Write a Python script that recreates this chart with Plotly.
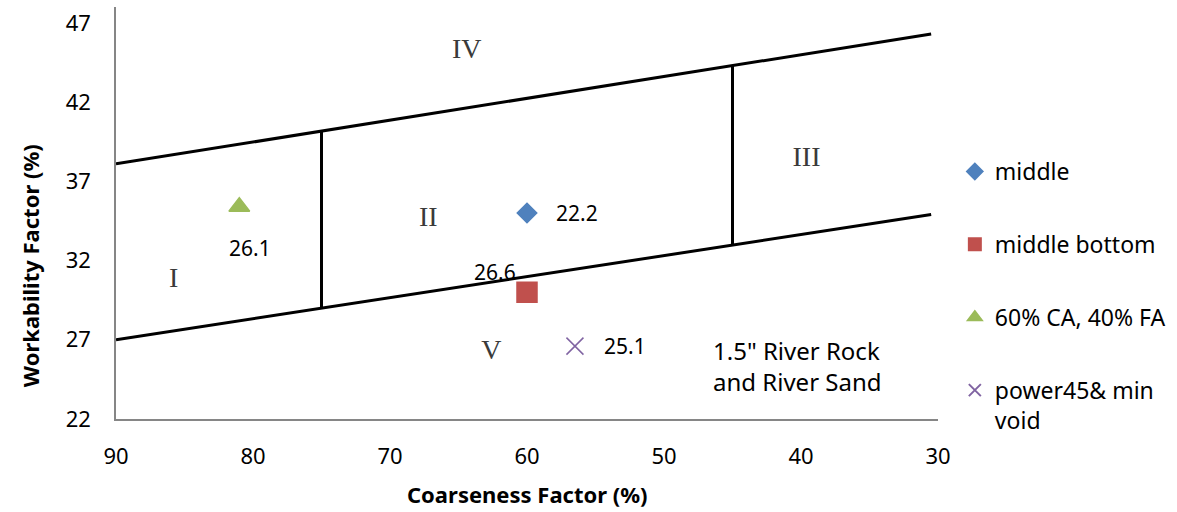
import plotly.graph_objects as go

# boundary lines of the workability chart
upper_x = [90, 30.5]
upper_y = [38.1, 46.3]
lower_x = [90, 30.5]
lower_y = [27.0, 34.9]
div1_x = [75, 75]
div1_y = [29.0, 40.2]
div2_x = [45, 45]
div2_y = [33.0, 44.3]

# zone labels
zone_names = ["I", "II", "III", "IV", "V"]
zone_x = [85.8, 67.2, 39.6, 64.4, 62.6]
zone_y = [30.8, 34.6, 38.4, 45.2, 26.2]

# mixes
mix_names = ["middle", "middle bottom", "60% CA, 40% FA", "power45& min<br>void"]
mix_x = [60, 60, 81, 56.5]
mix_y = [35.0, 30.0, 35.4, 26.6]
mix_labels = ["22.2", "26.6", "26.1", "25.1"]

font = "Noto Sans"
fig = go.Figure()

for xs, ys in [(upper_x, upper_y), (lower_x, lower_y), (div1_x, div1_y), (div2_x, div2_y)]:
    fig.add_trace(go.Scatter(x=xs, y=ys, mode="lines",
                             line=dict(color="black", width=3),
                             showlegend=False, hoverinfo="skip"))

symbols = ["diamond", "square", "triangle-up", "x-thin-open"]
colors = ["#4F81BD", "#C0504D", "#9BBB59", "#8064A2"]
sizes = [15, 20, 18, 17]
label_dx = [50, -32, 11, 50]
label_dy = [0, 20, -41, 0]
for i in range(len(mix_names)):
    fig.add_trace(go.Scatter(x=[mix_x[i]], y=[mix_y[i]], mode="markers",
                             name=mix_names[i], legendgroup=str(i),
                             marker=dict(symbol=symbols[i], color=colors[i], size=sizes[i],
                                         line=dict(color=colors[i], width=1.5))))
    fig.add_annotation(x=mix_x[i], y=mix_y[i], text=mix_labels[i], showarrow=False,
                       xshift=label_dx[i], yshift=label_dy[i],
                       font=dict(family=font, size=21, color="black"))

fig.add_trace(go.Scatter(x=zone_x, y=zone_y, mode="text", text=zone_names,
                         textfont=dict(family="Liberation Serif", size=28, color="#3a3a3a"),
                         showlegend=False, hoverinfo="skip"))

fig.add_annotation(x=0.724, y=0.129, xref="paper", yref="paper", xanchor="left", yanchor="middle",
                   text='1.5" River Rock<br>and River Sand', showarrow=False, align="left",
                   font=dict(family=font, size=24, color="black"))

# axis titles
fig.add_annotation(x=0.5, y=-0.182, xref="paper", yref="paper", yanchor="middle",
                   text="<b>Coarseness Factor (%)</b>", showarrow=False,
                   font=dict(family=font, size=22))
fig.add_annotation(x=-0.1046, y=0.371, xref="paper", yref="paper", xanchor="center",
                   text="<b>Workability Factor (%)</b>", showarrow=False, textangle=-90,
                   font=dict(family=font, size=22))

fig.update_layout(
    width=1177, height=512,
    margin=dict(l=116, r=239, t=7, b=93, autoexpand=False),
    plot_bgcolor="white", paper_bgcolor="white",
    font=dict(family=font, size=21, color="black"),
    legend=dict(x=1.0205, y=0.653, yanchor="top", xanchor="left",
                tracegroupgap=40, valign="top", itemsizing="constant",
                font=dict(family=font, size=23)),
    xaxis=dict(range=[90, 30], dtick=10, showgrid=False, zeroline=False,
               showline=True, linecolor="#868686", linewidth=1.5,
               ticks="outside", ticklen=17, tickcolor="rgba(0,0,0,0)",
               tickfont=dict(size=22), automargin=False),
    yaxis=dict(range=[22, 48], tick0=22, dtick=5, showgrid=False, zeroline=False,
               showline=True, linecolor="#868686", linewidth=1.5,
               ticks="outside", ticklen=19, tickcolor="rgba(0,0,0,0)",
               tickfont=dict(size=22), automargin=False),
)

# drop the browser's default page margin so the figure sits at the top-left corner
fig.write_html("out.html", config={"displayModeBar": False},
               post_script="document.body.style.margin='0';")
